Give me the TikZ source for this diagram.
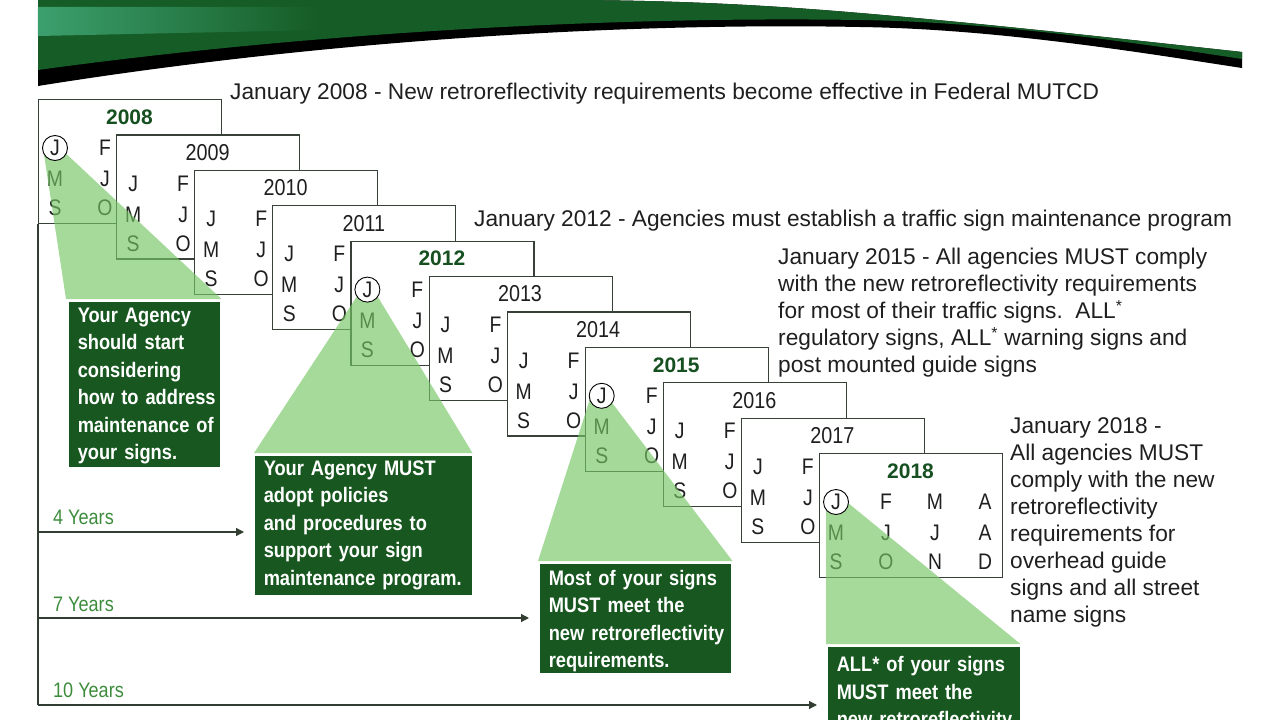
\documentclass[tikz,border=0pt]{standalone}
\usepackage{fontspec}
\setmainfont{Liberation Sans}
\newfontfamily\calfont[FakeStretch=0.86]{Liberation Sans}
\newfontfamily\boxfont[FakeStretch=0.87]{Liberation Sans}
\usetikzlibrary{arrows.meta,calc,fadings,shadows}
\definecolor{bannergreen}{RGB}{22,92,38}
\definecolor{bannerlight}{RGB}{60,160,110}
\definecolor{boxgreen}{RGB}{24,88,32}
\definecolor{yeargreen}{RGB}{22,80,32}
\definecolor{labelgreen}{RGB}{60,140,60}
\definecolor{trigreen}{RGB}{117,198,100}
\definecolor{calline}{RGB}{55,65,55}
\definecolor{axisline}{RGB}{50,62,50}
\newcommand\bxl[1]{\mbox{#1}}
\begin{document}
\begin{tikzpicture}[x=1pt,y=-1pt,
  calbox/.style={draw=calline, line width=1.1pt, fill=white, minimum width=183pt, minimum height=124pt, anchor=north west, inner sep=0pt},
  month/.style={font=\calfont\fontsize{22.5}{22.5}\selectfont, inner sep=0pt, text=black!88},
  yearplain/.style={font=\calfont\fontsize{23}{23}\selectfont, inner sep=0pt, text=black!88},
  yearbold/.style={font=\bfseries\fontsize{21}{21}\selectfont, text=yeargreen, inner sep=0pt},
  tri/.style={fill=trigreen, fill opacity=0.65, draw=none},
  jcircle/.style={circle, draw=black, line width=0.9pt, fill=white, minimum size=25pt, inner sep=0pt, font=\calfont\fontsize{22.5}{22.5}\selectfont, text=black!88},
  infobox/.style={fill=boxgreen, draw=white, line width=1.5pt, anchor=north west, inner xsep=10pt, inner ysep=0pt, align=left, text=white, font=\boxfont\bfseries\fontsize{21}{27.5}\selectfont, drop shadow={opacity=0.25, shadow xshift=1pt, shadow yshift=-1pt}},
  note/.style={font=\fontsize{22.7}{27}\selectfont, inner sep=0pt, align=left, text=black!88},
  yearslabel/.style={font=\calfont\fontsize{21}{21}\selectfont, text=labelgreen, anchor=base west, inner sep=0pt},
  timeline/.style={draw=axisline, line width=1.2pt},
  arrowed/.style={-{Triangle[length=8pt,width=8pt]}, shorten >=9pt}
]
\useasboundingbox (0,0) rectangle (1280,720);
\clip (0,0) rectangle (1280,720);
% banner
\fill[black] (38,0) -- (560,0) .. controls (700,0) and (800,8) .. (860,13) .. controls (1000,25) and (1150,42) .. (1242,52) -- (1242,68) .. controls (1150,54) and (1000,29) .. (860,27) .. controls (600,22) and (300,44) .. (38,86) -- cycle;
\fill[bannergreen] (38,0) -- (560,0) .. controls (700,0) and (800,8) .. (860,13) .. controls (1000,25) and (1150,42) .. (1242,52) -- (1242,59) .. controls (1150,45) and (1000,22) .. (860,20) .. controls (600,16) and (300,34) .. (38,70) -- cycle;
\fill[bannerlight, path fading=east] (38,7) -- (320,7) -- (320,30) -- (38,36) -- cycle;
% calendars
\foreach \i/\yr/\hl in {0/2008/1,1/2009/0,2/2010/0,3/2011/0,4/2012/1,5/2013/0,6/2014/0,7/2015/1,8/2016/0,9/2017/0,10/2018/1}{
  \node[calbox] (cal\yr) at ({38+78.1*\i},{99+35.4*\i}) {};
  \ifnum\hl=1
    \node[yearbold] (y\yr) at ($(cal\yr.north west)+(91.5,18)$) {\yr};
  \else
    \node[yearplain] (y\yr) at ($(cal\yr.north west)+(91.5,18)$) {\yr};
    \node[month] (m\yr-a) at ($(cal\yr.north west)+(17,49)$) {J};
  \fi
  \node[month] (m\yr-b) at ($(cal\yr.north west)+(67,49)$) {F};
  \node[month] (m\yr-e) at ($(cal\yr.north west)+(17,80)$) {M};
  \node[month] (m\yr-f) at ($(cal\yr.north west)+(67,80)$) {J};
  \node[month] (m\yr-i) at ($(cal\yr.north west)+(17,109)$) {S};
  \node[month] (m\yr-j) at ($(cal\yr.north west)+(67,109)$) {O};
}
\node[month] (m2018-c) at ($(cal2018.north west)+(116,49)$) {M};
\node[month] (m2018-d) at ($(cal2018.north west)+(166,49)$) {A};
\node[month] (m2018-g) at ($(cal2018.north west)+(116,80)$) {J};
\node[month] (m2018-h) at ($(cal2018.north west)+(166,80)$) {A};
\node[month] (m2018-k) at ($(cal2018.north west)+(116,109)$) {N};
\node[month] (m2018-l) at ($(cal2018.north west)+(166,109)$) {D};
% timeline
\coordinate (t4) at (38,532);
\coordinate (t7) at (38,618);
\coordinate (t10) at (38,705);
\draw[timeline] (cal2008.south west) -- (t10);
% boxes
\node[infobox, text width=133pt, minimum height=167pt] (box1) at (67,300) {\bxl{\rule{0pt}{18pt}Your Agency}\\\bxl{should start}\\\bxl{considering}\\\bxl{how to address}\\\bxl{maintenance of}\\\bxl{your signs.}};
\node[infobox, text width=199pt, minimum height=141pt] (box2) at (253,454) {\bxl{Your Agency MUST}\\\bxl{adopt policies}\\\bxl{and procedures to}\\\bxl{support your sign}\\\bxl{maintenance program.}};
\node[infobox, text width=173pt, minimum height=111pt] (box3) at (538,562) {\bxl{\rule{0pt}{21pt}Most of your signs}\\\bxl{MUST meet the}\\\bxl{new retroreflectivity}\\\bxl{requirements.}};
\node[infobox, text width=174pt, minimum height=111pt] (box4) at (826,645) {\bxl{\rule{0pt}{26pt}ALL* of your signs}\\\bxl{MUST meet the}\\\bxl{new retroreflectivity}\\\bxl{requirements.}};
\draw[timeline, arrowed] (t4) -- (box2.west |- t4);
\draw[timeline, arrowed] (t7) -- (box3.west |- t7);
\draw[timeline, arrowed] (t10) -- (box4.west |- t10);
\node[yearslabel] (l4) at (53,524) {4 Years};
\node[yearslabel] (l7) at (53,611) {7 Years};
\node[yearslabel] (l10) at (53,697) {10 Years};
% circles anchors
\coordinate (j2008) at ($(cal2008.north west)+(17,49)$);
\coordinate (j2012) at ($(cal2012.north west)+(17,49)$);
\coordinate (j2015) at ($(cal2015.north west)+(17,49)$);
\coordinate (j2018) at ($(cal2018.north west)+(17,49)$);
% triangles
\fill[tri] ($(j2008)+(-12,0)$) -- ($(j2008)+(5,0)$) -- ($(box1.north east)+(0,-1)$) -- ($(box1.north west)+(-1,-1)$) -- cycle;
\fill[tri] ($(j2012)+(-6,0)$) -- ($(j2012)+(6,0)$) -- ($(box2.north east)+(-1,-1)$) -- ($(box2.north west)+(1,-1)$) -- cycle;
\fill[tri] ($(j2015)+(-12,4)$) -- ($(j2015)+(5,0)$) -- ($(box3.north east)+(0,-1)$) -- ($(box3.north west)+(0,-1)$) -- cycle;
\fill[tri] ($(j2018)+(-10,0)$) -- ($(j2018)+(6,-4)$) -- ($(box4.north east)+(-1,-1)$) -- ($(box4.north west)+(0,-1)$) -- cycle;
\node[jcircle] (c2008) at (j2008) {J};
\node[jcircle] (c2012) at (j2012) {J};
\node[jcircle] (c2015) at (j2015) {J};
\node[jcircle] (c2018) at (j2018) {J};
% notes
\node[note, anchor=base west] (n2008) at (230,99) {January 2008 - New retroreflectivity requirements become effective in Federal MUTCD};
\node[note, anchor=base west] (n2012) at (474,226) {January 2012 - Agencies must establish a traffic sign maintenance program};
\node[note, anchor=north west] (n2015) at (778,248) {January 2015 - All agencies MUST comply\\with the new retroreflectivity requirements\\for most of their traffic signs.\ \ ALL\textsuperscript{*}\\regulatory signs, ALL\textsuperscript{*} warning signs and\\post mounted guide signs};
\node[note, anchor=north west] (n2018) at (1010,417) {January 2018 -\\All agencies MUST\\comply with the new\\retroreflectivity\\requirements for\\overhead guide\\signs and all street\\name signs};
\end{tikzpicture}
\end{document}
